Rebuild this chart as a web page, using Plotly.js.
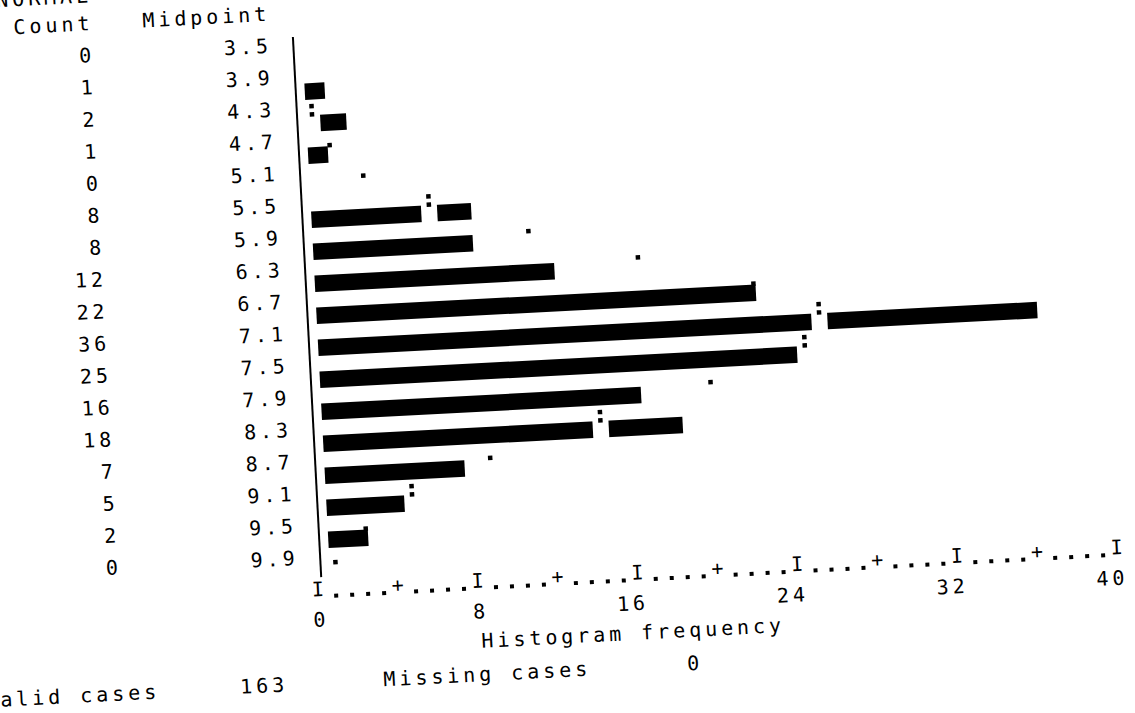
<!DOCTYPE html>
<html>
<head>
<meta charset="utf-8">
<script src="https://cdn.plot.ly/plotly-3.0.1.min.js"></script>
<style>
  html, body { margin: 0; padding: 0; background: #fff; overflow: hidden; width: 1135px; height: 713px; }
  /* the printout sits slightly askew on the page */
  #sheet { position: absolute; left: -50px; top: -50px; width: 1235px; height: 813px;
           transform: rotate(-3deg); transform-origin: 617.5px 406.5px; }
  /* line-printer spacing: every character takes one 16px column */
  svg text { letter-spacing: 3.96px; }
</style>
</head>
<body>
<div id="sheet"></div>
<script>
// ---- histogram data ----
const variableName = 'NORMAL';
const midpoints = [3.5, 3.9, 4.3, 4.7, 5.1, 5.5, 5.9, 6.3, 6.7, 7.1, 7.5, 7.9, 8.3, 8.7, 9.1, 9.5, 9.9];
const counts    = [0, 1, 2, 1, 0, 8, 8, 12, 22, 36, 25, 16, 18, 7, 5, 2, 0];
// expected frequencies of the fitted normal curve (null = not printed)
const normalCurve = [null, null, 0.3, 1.1, 2.7, 5.9, 10.8, 16.2, 21.9, 25.1, 24.3, 19.5, 13.9, 8.3, 4.3, 1.9, 0.3];
const freqTicks = [0, 8, 16, 24, 32, 40];
const validCases = 163;
const missingCases = 0;

// ---- printer geometry (frequency units / row units) ----
const CELL = 0.8;            // one print column
const BAR_BASE = 0.55;       // bars start one column right of the axis
const BAR_SHIFT = 0.163;     // bar block sits below the text line
const BAR_THICK = 0.515;
const AXIS_ROW = 17;
const AXIS_X = 0.1;
const FONT = 'DejaVu Sans Mono, monospace';
const FSIZE = 20;
const INK = '#000';
const PAPER = '#fff';
const txt = (size, weight) => ({ family: FONT, size: size, color: INK, weight: weight || 'normal' });

const rows = midpoints.map((_, i) => i);

// number of printed block characters for a count, and whether the curve falls inside the bar
const barChars = c => Math.round(c / CELL - 1e-9);
const splitsBar = i => normalCurve[i] !== null && Math.floor(normalCurve[i] / CELL) < barChars(counts[i]);

const curveRows = rows.filter(i => normalCurve[i] !== null);
const gapRows = curveRows.filter(splitsBar);

// blank print column under a ':' ; it runs to the bar end when less than half a column would remain
const gapSpan = gapRows.map(i => {
  const start = BAR_BASE + normalCurve[i] - CELL / 2;
  let end = start + CELL;
  const barEnd = BAR_BASE + counts[i];
  if (barEnd - end < CELL / 2) end = barEnd + 0.05;
  return [start, end];
});

// curve points: ':' (two dots) where the curve cuts a bar, '.' elsewhere
const dotX = [], dotY = [];
curveRows.forEach(i => {
  const x = BAR_BASE + normalCurve[i];
  if (splitsBar(i)) { dotX.push(x, x); dotY.push(i - 0.118, i + 0.14); }
  else { dotX.push(x); dotY.push(i + 0.13); }
});

// dotted frequency scale: I at labelled ticks, + half way, . in between
const scaleCells = freqTicks[freqTicks.length - 1] / CELL;
const cellsPerTick = (freqTicks[1] - freqTicks[0]) / CELL;
const markX = [], markText = [], fillX = [];
for (let k = 0; k <= scaleCells; k++) {
  if (k % cellsPerTick === 0) { markX.push(k * CELL); markText.push('I'); }
  else if (k % (cellsPerTick / 2) === 0) { markX.push(k * CELL); markText.push('+'); }
  else fillX.push(k * CELL);
}

const textTrace = (x, y, text, pos) => ({
  type: 'scatter', mode: 'text', cliponaxis: false, hoverinfo: 'skip',
  x: x, y: y, text: text, textposition: pos, textfont: txt(FSIZE)
});

const COUNT_X = -9.825, MID_X = -0.975;

const traces = [
  {
    type: 'bar', orientation: 'h',
    y: rows, x: counts, base: BAR_BASE, offset: BAR_SHIFT, width: BAR_THICK,
    marker: { color: INK, line: { width: 0 } }, hoverinfo: 'skip'
  },
  {
    // blank column where the normal curve cuts through a bar
    type: 'bar', orientation: 'h',
    y: gapRows, x: gapSpan.map(s => s[1] - s[0]), base: gapSpan.map(s => s[0]),
    offset: BAR_SHIFT - 0.03, width: BAR_THICK + 0.06,
    marker: { color: PAPER, line: { width: 0 } }, hoverinfo: 'skip'
  },
  {
    // normal curve points
    type: 'scatter', mode: 'markers', cliponaxis: false, hoverinfo: 'skip',
    x: dotX, y: dotY,
    marker: { symbol: 'square', size: 4.5, color: INK, line: { width: 0 } }
  },
  // count column
  textTrace(rows.map(() => COUNT_X).concat([COUNT_X, COUNT_X]),
            rows.concat([-1, -1.87]),
            counts.map(String).concat(['Count', variableName]), 'middle left'),
  // midpoint column
  textTrace(rows.map(() => MID_X).concat([MID_X]),
            rows.concat([-1]),
            midpoints.map(m => m.toFixed(1)).concat(['Midpoint']), 'middle left'),
  // frequency scale: tick characters
  textTrace(markX, markX.map(() => AXIS_ROW), markText, 'middle center'),
  {
    // frequency scale: dotted fill
    type: 'scatter', mode: 'markers', cliponaxis: false, hoverinfo: 'skip',
    x: fillX, y: fillX.map(() => AXIS_ROW + 0.17),
    marker: { symbol: 'square', size: 4, color: INK, line: { width: 0 } }
  },
  // frequency scale numbers, last digit under the tick column
  textTrace(freqTicks.map(t => t - (String(t).length - 1) * CELL / 2),
            freqTicks.map(() => AXIS_ROW + 0.96),
            freqTicks.map(String), 'middle center'),
  // footer lines
  textTrace([15.53, -12.645, -3.035, 8.135, 18.55],
            [18.88, 19.93, 19.92, 19.92, 19.92],
            ['Histogram frequency', 'Valid cases', String(validCases), 'Missing cases', String(missingCases)],
            'middle center')
];

const layout = {
  width: 1235, height: 813,
  margin: { l: 0, r: 0, t: 0, b: 0, pad: 0 },
  paper_bgcolor: PAPER, plot_bgcolor: PAPER,
  showlegend: false, barmode: 'overlay',
  xaxis: { range: [-17.9, 43.85], showline: false, showgrid: false, zeroline: false,
           showticklabels: false, ticks: '', fixedrange: true },
  yaxis: { range: [22.78, -2.58], showline: false, showgrid: false, zeroline: false,
           showticklabels: false, ticks: '', fixedrange: true },
  shapes: [
    // vertical frequency axis
    { type: 'line', xref: 'x', yref: 'y', x0: AXIS_X, x1: AXIS_X, y0: -0.3, y1: 16.57,
      line: { color: INK, width: 2 } }
  ]
};

Plotly.newPlot('sheet', traces, layout, { staticPlot: true, displayModeBar: false });
</script>
</body>
</html>
